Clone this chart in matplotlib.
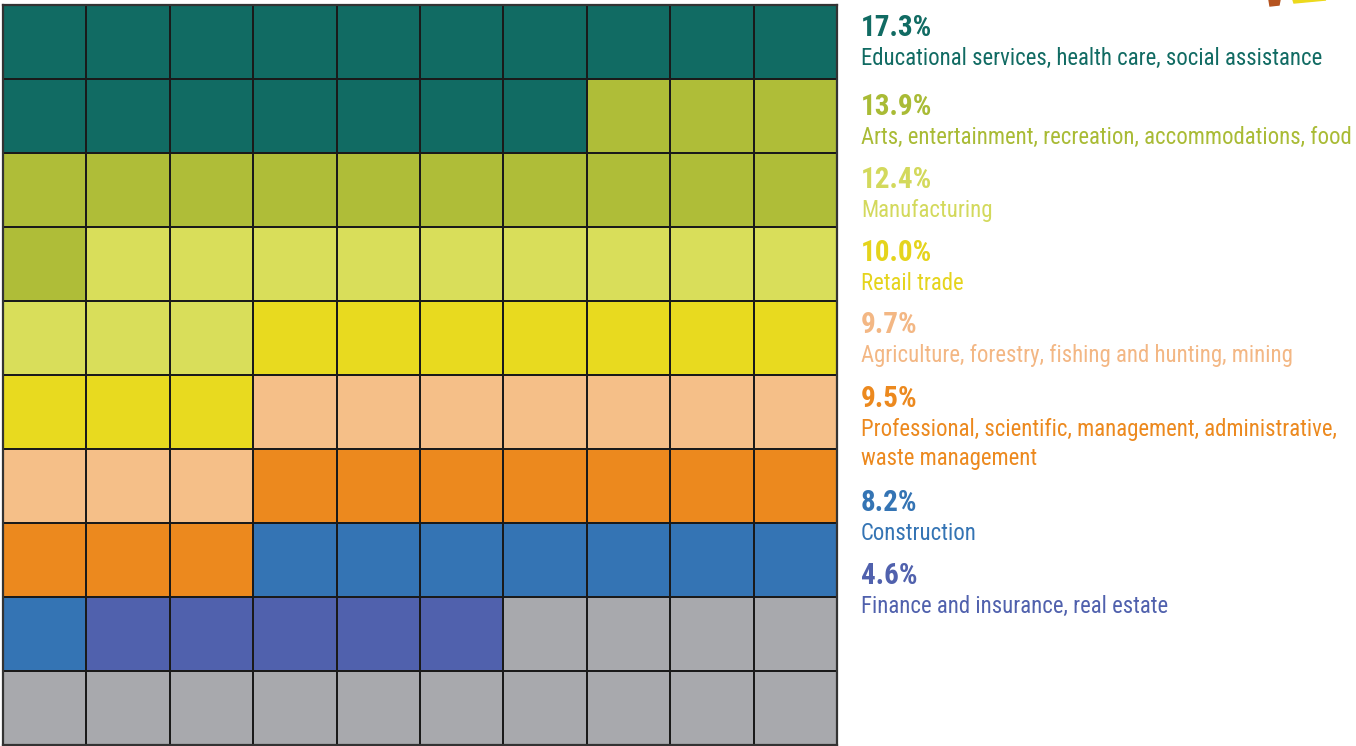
"""Waffle chart: share of employment by industry (10 x 10 grid)."""

import matplotlib

matplotlib.use("Agg")
import matplotlib.pyplot as plt  # noqa: E402
import numpy as np  # noqa: E402
from matplotlib.colors import ListedColormap  # noqa: E402
from matplotlib.patches import Polygon  # noqa: E402

# ---------- data -----------------------------------------------------------

industries = [
    "Educational services, health care, social assistance",
    "Arts, entertainment, recreation, accommodations, food",
    "Manufacturing",
    "Retail trade",
    "Agriculture, forestry, fishing and hunting, mining",
    "Professional, scientific, management, administrative,\nwaste management",
    "Construction",
    "Finance and insurance, real estate",
]
pct_labels = ["17.3%", "13.9%", "12.4%", "10.0%", "9.7%", "9.5%", "8.2%", "4.6%"]
cell_counts = [17, 14, 12, 10, 10, 10, 8, 5]   # remaining cells = other (grey)

cell_colors = ["#116b63", "#afbd38", "#d9de5a", "#e8da1f",
               "#f5bf88", "#ec891e", "#3474b4", "#5061ad", "#a8a9ad"]
text_colors = ["#116b63", "#a9bb35", "#d3d95c", "#e5d41c",
               "#f3b784", "#ec891e", "#3474b4", "#5061ad"]

# ---------- layout (pixels) ------------------------------------------------

W, H, DPI = 1356, 746, 100
GRID_X0, GRID_X1 = 3, 837
GRID_Y0, GRID_Y1 = 5, 745
TEXT_X = 861
pct_baselines = [36, 115, 188, 261, 333, 407, 511, 584]
LABEL_GAP = 29
LINE_GAP = 29

plt.rcParams["font.family"] = ["Roboto Condensed", "Archivo Narrow", "DejaVu Sans"]

fig = plt.figure(figsize=(W / DPI, H / DPI), dpi=DPI)

# waffle grid
n = 10
codes = np.repeat(np.arange(len(cell_counts) + 1),
                  cell_counts + [n * n - sum(cell_counts)]).reshape(n, n)
ax = fig.add_axes([GRID_X0 / W, 1 - GRID_Y1 / H,
                   (GRID_X1 - GRID_X0) / W, (GRID_Y1 - GRID_Y0) / H])
ax.pcolormesh(codes, cmap=ListedColormap(cell_colors), vmin=-0.5,
              vmax=len(cell_colors) - 0.5, edgecolors="#1a1a1a", linewidth=1.4)
ax.set_xlim(0, n)
ax.set_ylim(n, 0)
ax.set_xticks([])
ax.set_yticks([])
for s in ax.spines.values():
    s.set_color("#333333")
    s.set_linewidth(1.6)

# legend text, in pixel coordinates
tx = fig.add_axes([0, 0, 1, 1], facecolor="none")
tx.set_xlim(0, W)
tx.set_ylim(H, 0)
tx.axis("off")
for pct, name, col, yb in zip(pct_labels, industries, text_colors, pct_baselines):
    tx.text(TEXT_X, yb, pct, color=col, fontsize=21, fontweight="bold",
            va="baseline", ha="left")
    for k, line in enumerate(name.split("\n")):
        tx.text(TEXT_X, yb + LABEL_GAP + k * LINE_GAP, line, color=col,
                fontsize=16.4, va="baseline", ha="left")

# cropped decoration in the top-right corner
tx.add_patch(Polygon([(1269, 0), (1280, 0), (1279, 5), (1270, 6)],
                     closed=True, color="#b5531f", clip_on=False))
tx.add_patch(Polygon([(1293, 0), (1326, 0), (1294, 3)],
                     closed=True, color="#ecd91c", clip_on=False))

fig.savefig("out.png", dpi=DPI)
plt.close(fig)
